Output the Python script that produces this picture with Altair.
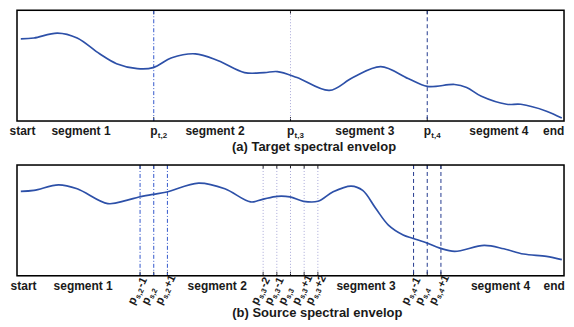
import altair as alt
import pandas as pd

# ---------------- data ----------------
# (a) target spectral envelope, x in % of spectrum, y magnitude
a_x = [0.7, 3.1, 7.4, 11.0, 15.1, 18.2, 22.0, 24.9, 28.3, 32.6, 36.8, 41.6, 45.2, 47.6,
       51.2, 57.1, 61.4, 66.5, 71.5, 75.0, 80.0, 82.2, 84.9, 89.5, 92.1, 96.8, 99.6]
a_y = [83, 84, 89, 84, 68, 58, 53, 54, 64, 68, 61, 49, 49, 50,
       44, 31, 44, 55, 43, 35, 37, 34, 25, 17, 17, 10, 3]

# (b) source spectral envelope
b_x = [0.7, 3.1, 7.6, 11.0, 16.6, 20.0, 22.3, 24.9, 27.4, 33.2, 38.0, 42.7, 44.9, 47.6,
       49.9, 52.4, 55.0, 57.8, 61.1, 63.2, 65.6, 67.9, 70.6, 72.3, 75.0, 77.3, 80.0,
       85.4, 89.0, 92.6, 96.8, 99.6]
b_y = [85.3, 86.3, 92, 88, 73, 76.3, 79.7, 82.3, 84.7, 93.7, 88, 74.7, 77.3, 80.3,
       79.7, 75.3, 75.3, 85, 90.7, 86.3, 68, 51.3, 41.3, 38, 33, 28, 24.7,
       30.7, 27.3, 22, 19.7, 16.3]

# boundary positions
a_pos = [25, 50, 75]
a_grp = ["g2", "g3", "g4"]
a_sub = ["t,2", "t,3", "t,4"]

b_pos = [22.5, 25, 27.5, 45, 47.5, 50, 52.5, 55, 72.5, 75, 77.5]
b_grp = ["g2", "g2", "g2", "g3", "g3", "g3", "g3", "g3", "g4", "g4", "g4"]
b_sub = ["s,2", "s,2", "s,2", "s,3", "s,3", "s,3", "s,3", "s,3", "s,4", "s,4", "s,4"]
b_suffix = ["-1", "", "+1", "-2", "-1", "", "+1", "+2", "-1", "", "+1"]

seg_labels = ["start", "segment 1", "segment 2", "segment 3", "segment 4", "end"]
seg_pos_a = [1.0, 11.7, 36.2, 63.6, 88.1, 98.1]
seg_pos_b = [1.2, 12.1, 36.6, 63.8, 88.4, 98.2]

titles = ["(a) Target spectral envelop", "(b) Source spectral envelop"]
title_pos = [54.3, 54.9]

# ---------------- styles ----------------
W, H = 548, 111
FONT = "Liberation Sans"
CURVE = "#2d50a8"
line_styles = {
    "g2": dict(color="#3458cc", strokeDash=[4, 2, 1, 2]),
    "g3": dict(color="#a9a9d8", strokeDash=[1, 2]),
    "g4": dict(color="#23398f", strokeDash=[4, 3]),
}

xs = alt.Scale(domain=[0, 100], nice=False, zero=False)
ys = alt.Scale(domain=[0, 112], nice=False, zero=False)


def panel(cx, cy, pos, grp, seg_pos, title, tpos, title_y):
    curve_df = pd.DataFrame({"x": cx, "y": cy})
    pos_df = pd.DataFrame({"x": pos, "g": grp})
    seg_df = pd.DataFrame({"x": seg_pos, "t": seg_labels})
    tit_df = pd.DataFrame({"x": [tpos], "t": [title]})

    layers = []
    # inward tick marks, bottom and top
    layers.append(alt.Chart(pos_df).mark_rule(color="#222", strokeWidth=1).encode(
        x=alt.X("x:Q", scale=xs, axis=None), y=alt.value(H), y2=alt.value(H - 4)))
    layers.append(alt.Chart(pos_df).mark_rule(color="#222", strokeWidth=1).encode(
        x=alt.X("x:Q", scale=xs, axis=None), y=alt.value(0), y2=alt.value(4)))
    # vertical boundary lines
    for g, st in line_styles.items():
        layers.append(alt.Chart(pos_df).transform_filter(alt.datum.g == g).mark_rule(
            strokeWidth=1, **st).encode(x=alt.X("x:Q", scale=xs, axis=None)))
    # curve
    layers.append(alt.Chart(curve_df).mark_line(
        color=CURVE, strokeWidth=1.7, interpolate="catmull-rom").encode(
        x=alt.X("x:Q", scale=xs, axis=None), y=alt.Y("y:Q", scale=ys, axis=None)))
    # frame box
    layers.append(alt.Chart(tit_df).mark_rect(
        filled=False, stroke="black", strokeWidth=1.5).encode(
        x=alt.value(0), x2=alt.value(W), y=alt.value(0), y2=alt.value(H)))
    # segment labels
    layers.append(alt.Chart(seg_df).mark_text(
        font=FONT, fontSize=12, fontWeight="bold", color="#1a1a1a",
        align="center", baseline="alphabetic").encode(
        x=alt.X("x:Q", scale=xs, axis=None), y=alt.value(H + 14), text="t:N"))
    # title
    layers.append(alt.Chart(tit_df).mark_text(
        font=FONT, fontSize=13, fontWeight="bold", color="#1a1a1a",
        align="center", baseline="alphabetic").encode(
        x=alt.X("x:Q", scale=xs, axis=None), y=alt.value(H + title_y), text="t:N"))
    return layers


# ---- panel (a)
la = panel(a_x, a_y, a_pos, a_grp, seg_pos_a, titles[0], title_pos[0], 30)
pa_df = pd.DataFrame({"x": a_pos, "p": ["p"] * 3, "s": a_sub})
la.append(alt.Chart(pa_df).mark_text(
    font=FONT, fontSize=12, fontWeight="bold", color="#1a1a1a", align="left",
    baseline="alphabetic", dx=-3.5).encode(
    x=alt.X("x:Q", scale=xs, axis=None), y=alt.value(H + 14), text="p:N"))
la.append(alt.Chart(pa_df).mark_text(
    font=FONT, fontSize=8, fontWeight="bold", color="#1a1a1a", align="left",
    baseline="alphabetic", dx=4.1).encode(
    x=alt.X("x:Q", scale=xs, axis=None), y=alt.value(H + 16.5), text="s:N"))
chart_a = alt.layer(*la).properties(width=W, height=H)

# ---- panel (b)
lb = panel(b_x, b_y, b_pos, b_grp, seg_pos_b, titles[1], title_pos[1], 41)
pb_df = pd.DataFrame({"x": b_pos, "p": ["p"] * len(b_pos), "s": b_sub, "k": b_suffix})
ANG = 297
ly = H + 28.3
lb.append(alt.Chart(pb_df).mark_text(
    font=FONT, fontSize=11.5, fontWeight="bold", color="#1a1a1a", align="left",
    baseline="middle", angle=ANG, dx=-3.95, dy=-7.75).encode(
    x=alt.X("x:Q", scale=xs, axis=None), y=alt.value(ly), text="p:N"))
lb.append(alt.Chart(pb_df).mark_text(
    font=FONT, fontSize=7.5, fontWeight="bold", color="#1a1a1a", align="left",
    baseline="middle", angle=ANG, dx=3.85, dy=-4.75).encode(
    x=alt.X("x:Q", scale=xs, axis=None), y=alt.value(ly), text="s:N"))
lb.append(alt.Chart(pb_df).mark_text(
    font=FONT, fontSize=11, fontWeight="bold", color="#1a1a1a", align="left",
    baseline="middle", angle=ANG, dx=15.25, dy=-7.75).encode(
    x=alt.X("x:Q", scale=xs, axis=None), y=alt.value(ly), text="k:N"))
chart_b = alt.layer(*lb).properties(width=W, height=H)

chart = alt.vconcat(chart_a, chart_b, spacing=44, bounds="flush").properties(
    padding={"left": 0, "top": 0, "right": 0, "bottom": 0}
).configure_view(strokeWidth=0).configure(background="white")

chart.save("out.html", embed_options={"renderer": "svg", "actions": False})
